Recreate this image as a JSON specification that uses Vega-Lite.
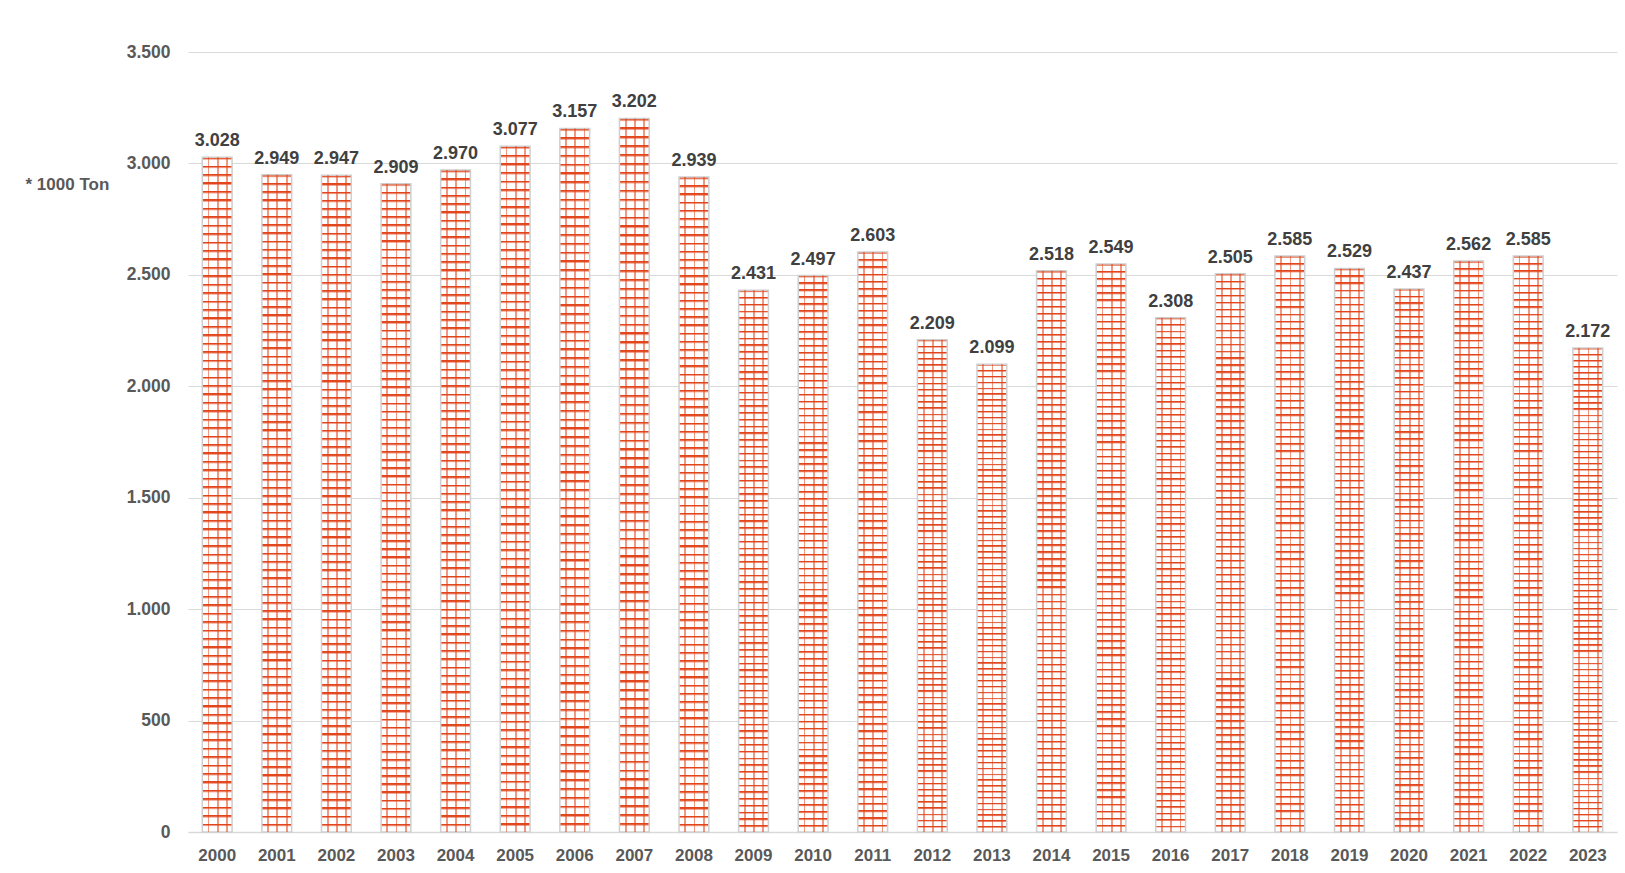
{
  "$schema": "https://vega.github.io/schema/vega-lite/v6.json",
  "width": 1429,
  "height": 780,
  "autosize": {"type": "none"},
  "padding": {"left": 188, "top": 52, "right": 8, "bottom": 41},
  "background": "white",
  "config": {
    "locale": {"number": {"decimal": ",", "thousands": ".", "grouping": [3], "currency": ["€", ""]}},
    "view": {"stroke": null},
    "font": "Liberation Sans"
  },
  "data": {
    "values": [
      {"year": "2000", "value": 3028}, {"year": "2001", "value": 2949}, {"year": "2002", "value": 2947},
      {"year": "2003", "value": 2909}, {"year": "2004", "value": 2970}, {"year": "2005", "value": 3077},
      {"year": "2006", "value": 3157}, {"year": "2007", "value": 3202}, {"year": "2008", "value": 2939},
      {"year": "2009", "value": 2431}, {"year": "2010", "value": 2497}, {"year": "2011", "value": 2603},
      {"year": "2012", "value": 2209}, {"year": "2013", "value": 2099}, {"year": "2014", "value": 2518},
      {"year": "2015", "value": 2549}, {"year": "2016", "value": 2308}, {"year": "2017", "value": 2505},
      {"year": "2018", "value": 2585}, {"year": "2019", "value": 2529}, {"year": "2020", "value": 2437},
      {"year": "2021", "value": 2562}, {"year": "2022", "value": 2585}, {"year": "2023", "value": 2172}
    ]
  },
  "encoding": {
    "x": {
      "field": "year", "type": "ordinal", "title": null,
      "scale": {"paddingInner": 0.5, "paddingOuter": 0.24},
      "axis": {"labelAngle": 0, "ticks": false, "grid": false, "domain": true, "domainColor": "#d9d9d9", "domainWidth": 1.5,
        "labelFontSize": 17, "labelFontWeight": "bold", "labelColor": "#595959", "labelPadding": 15}
    },
    "y": {
      "field": "value", "type": "quantitative",
      "scale": {"domain": [0, 3500], "nice": false},
      "axis": {"values": [0, 500, 1000, 1500, 2000, 2500, 3000, 3500], "format": ",d", "ticks": false, "domain": false,
        "grid": true, "gridColor": "#d9d9d9", "gridWidth": 1.2,
        "labelFontSize": 17.5, "labelFontWeight": "bold", "labelColor": "#595959", "labelPadding": 18,
        "title": "* 1000 Ton", "titleAngle": 0, "titleX": -163, "titleY": 132, "titleAlign": "left", "titleBaseline": "middle",
        "titleFontSize": 17, "titleFontWeight": "bold", "titleColor": "#595959"}
    }
  },
  "layer": [
    {
      "mark": {
        "type": "bar", "stroke": "#cfcfcf", "strokeWidth": 1.5,
        "fill": {"gradient": "linear", "x1": 0, "y1": 0, "x2": 0, "y2": 1, "stops": [
{"offset":0,"color":"#e2451b"},{"offset":0.0015,"color":"#e2451b"},{"offset":0.0045,"color":"#fff"},{"offset":0.0125,"color":"#fff"},
{"offset":0.0125,"color":"#e2451b"},{"offset":0.014,"color":"#e2451b"},{"offset":0.017,"color":"#fff"},{"offset":0.025,"color":"#fff"},
{"offset":0.025,"color":"#e2451b"},{"offset":0.0265,"color":"#e2451b"},{"offset":0.0295,"color":"#fff"},{"offset":0.0375,"color":"#fff"},
{"offset":0.0375,"color":"#e2451b"},{"offset":0.039,"color":"#e2451b"},{"offset":0.042,"color":"#fff"},{"offset":0.05,"color":"#fff"},
{"offset":0.05,"color":"#e2451b"},{"offset":0.0515,"color":"#e2451b"},{"offset":0.0545,"color":"#fff"},{"offset":0.0625,"color":"#fff"},
{"offset":0.0625,"color":"#e2451b"},{"offset":0.064,"color":"#e2451b"},{"offset":0.067,"color":"#fff"},{"offset":0.075,"color":"#fff"},
{"offset":0.075,"color":"#e2451b"},{"offset":0.0765,"color":"#e2451b"},{"offset":0.0795,"color":"#fff"},{"offset":0.0875,"color":"#fff"},
{"offset":0.0875,"color":"#e2451b"},{"offset":0.089,"color":"#e2451b"},{"offset":0.092,"color":"#fff"},{"offset":0.1,"color":"#fff"},
{"offset":0.1,"color":"#e2451b"},{"offset":0.1015,"color":"#e2451b"},{"offset":0.1045,"color":"#fff"},{"offset":0.1125,"color":"#fff"},
{"offset":0.1125,"color":"#e2451b"},{"offset":0.114,"color":"#e2451b"},{"offset":0.117,"color":"#fff"},{"offset":0.125,"color":"#fff"},
{"offset":0.125,"color":"#e2451b"},{"offset":0.1265,"color":"#e2451b"},{"offset":0.1295,"color":"#fff"},{"offset":0.1375,"color":"#fff"},
{"offset":0.1375,"color":"#e2451b"},{"offset":0.139,"color":"#e2451b"},{"offset":0.142,"color":"#fff"},{"offset":0.15,"color":"#fff"},
{"offset":0.15,"color":"#e2451b"},{"offset":0.1515,"color":"#e2451b"},{"offset":0.1545,"color":"#fff"},{"offset":0.1625,"color":"#fff"},
{"offset":0.1625,"color":"#e2451b"},{"offset":0.164,"color":"#e2451b"},{"offset":0.167,"color":"#fff"},{"offset":0.175,"color":"#fff"},
{"offset":0.175,"color":"#e2451b"},{"offset":0.1765,"color":"#e2451b"},{"offset":0.1795,"color":"#fff"},{"offset":0.1875,"color":"#fff"},
{"offset":0.1875,"color":"#e2451b"},{"offset":0.189,"color":"#e2451b"},{"offset":0.192,"color":"#fff"},{"offset":0.2,"color":"#fff"},
{"offset":0.2,"color":"#e2451b"},{"offset":0.2015,"color":"#e2451b"},{"offset":0.2045,"color":"#fff"},{"offset":0.2125,"color":"#fff"},
{"offset":0.2125,"color":"#e2451b"},{"offset":0.214,"color":"#e2451b"},{"offset":0.217,"color":"#fff"},{"offset":0.225,"color":"#fff"},
{"offset":0.225,"color":"#e2451b"},{"offset":0.2265,"color":"#e2451b"},{"offset":0.2295,"color":"#fff"},{"offset":0.2375,"color":"#fff"},
{"offset":0.2375,"color":"#e2451b"},{"offset":0.239,"color":"#e2451b"},{"offset":0.242,"color":"#fff"},{"offset":0.25,"color":"#fff"},
{"offset":0.25,"color":"#e2451b"},{"offset":0.2515,"color":"#e2451b"},{"offset":0.2545,"color":"#fff"},{"offset":0.2625,"color":"#fff"},
{"offset":0.2625,"color":"#e2451b"},{"offset":0.264,"color":"#e2451b"},{"offset":0.267,"color":"#fff"},{"offset":0.275,"color":"#fff"},
{"offset":0.275,"color":"#e2451b"},{"offset":0.2765,"color":"#e2451b"},{"offset":0.2795,"color":"#fff"},{"offset":0.2875,"color":"#fff"},
{"offset":0.2875,"color":"#e2451b"},{"offset":0.289,"color":"#e2451b"},{"offset":0.292,"color":"#fff"},{"offset":0.3,"color":"#fff"},
{"offset":0.3,"color":"#e2451b"},{"offset":0.3015,"color":"#e2451b"},{"offset":0.3045,"color":"#fff"},{"offset":0.3125,"color":"#fff"},
{"offset":0.3125,"color":"#e2451b"},{"offset":0.314,"color":"#e2451b"},{"offset":0.317,"color":"#fff"},{"offset":0.325,"color":"#fff"},
{"offset":0.325,"color":"#e2451b"},{"offset":0.3265,"color":"#e2451b"},{"offset":0.3295,"color":"#fff"},{"offset":0.3375,"color":"#fff"},
{"offset":0.3375,"color":"#e2451b"},{"offset":0.339,"color":"#e2451b"},{"offset":0.342,"color":"#fff"},{"offset":0.35,"color":"#fff"},
{"offset":0.35,"color":"#e2451b"},{"offset":0.3515,"color":"#e2451b"},{"offset":0.3545,"color":"#fff"},{"offset":0.3625,"color":"#fff"},
{"offset":0.3625,"color":"#e2451b"},{"offset":0.364,"color":"#e2451b"},{"offset":0.367,"color":"#fff"},{"offset":0.375,"color":"#fff"},
{"offset":0.375,"color":"#e2451b"},{"offset":0.3765,"color":"#e2451b"},{"offset":0.3795,"color":"#fff"},{"offset":0.3875,"color":"#fff"},
{"offset":0.3875,"color":"#e2451b"},{"offset":0.389,"color":"#e2451b"},{"offset":0.392,"color":"#fff"},{"offset":0.4,"color":"#fff"},
{"offset":0.4,"color":"#e2451b"},{"offset":0.4015,"color":"#e2451b"},{"offset":0.4045,"color":"#fff"},{"offset":0.4125,"color":"#fff"},
{"offset":0.4125,"color":"#e2451b"},{"offset":0.414,"color":"#e2451b"},{"offset":0.417,"color":"#fff"},{"offset":0.425,"color":"#fff"},
{"offset":0.425,"color":"#e2451b"},{"offset":0.4265,"color":"#e2451b"},{"offset":0.4295,"color":"#fff"},{"offset":0.4375,"color":"#fff"},
{"offset":0.4375,"color":"#e2451b"},{"offset":0.439,"color":"#e2451b"},{"offset":0.442,"color":"#fff"},{"offset":0.45,"color":"#fff"},
{"offset":0.45,"color":"#e2451b"},{"offset":0.4515,"color":"#e2451b"},{"offset":0.4545,"color":"#fff"},{"offset":0.4625,"color":"#fff"},
{"offset":0.4625,"color":"#e2451b"},{"offset":0.464,"color":"#e2451b"},{"offset":0.467,"color":"#fff"},{"offset":0.475,"color":"#fff"},
{"offset":0.475,"color":"#e2451b"},{"offset":0.4765,"color":"#e2451b"},{"offset":0.4795,"color":"#fff"},{"offset":0.4875,"color":"#fff"},
{"offset":0.4875,"color":"#e2451b"},{"offset":0.489,"color":"#e2451b"},{"offset":0.492,"color":"#fff"},{"offset":0.5,"color":"#fff"},
{"offset":0.5,"color":"#e2451b"},{"offset":0.5015,"color":"#e2451b"},{"offset":0.5045,"color":"#fff"},{"offset":0.5125,"color":"#fff"},
{"offset":0.5125,"color":"#e2451b"},{"offset":0.514,"color":"#e2451b"},{"offset":0.517,"color":"#fff"},{"offset":0.525,"color":"#fff"},
{"offset":0.525,"color":"#e2451b"},{"offset":0.5265,"color":"#e2451b"},{"offset":0.5295,"color":"#fff"},{"offset":0.5375,"color":"#fff"},
{"offset":0.5375,"color":"#e2451b"},{"offset":0.539,"color":"#e2451b"},{"offset":0.542,"color":"#fff"},{"offset":0.55,"color":"#fff"},
{"offset":0.55,"color":"#e2451b"},{"offset":0.5515,"color":"#e2451b"},{"offset":0.5545,"color":"#fff"},{"offset":0.5625,"color":"#fff"},
{"offset":0.5625,"color":"#e2451b"},{"offset":0.564,"color":"#e2451b"},{"offset":0.567,"color":"#fff"},{"offset":0.575,"color":"#fff"},
{"offset":0.575,"color":"#e2451b"},{"offset":0.5765,"color":"#e2451b"},{"offset":0.5795,"color":"#fff"},{"offset":0.5875,"color":"#fff"},
{"offset":0.5875,"color":"#e2451b"},{"offset":0.589,"color":"#e2451b"},{"offset":0.592,"color":"#fff"},{"offset":0.6,"color":"#fff"},
{"offset":0.6,"color":"#e2451b"},{"offset":0.6015,"color":"#e2451b"},{"offset":0.6045,"color":"#fff"},{"offset":0.6125,"color":"#fff"},
{"offset":0.6125,"color":"#e2451b"},{"offset":0.614,"color":"#e2451b"},{"offset":0.617,"color":"#fff"},{"offset":0.625,"color":"#fff"},
{"offset":0.625,"color":"#e2451b"},{"offset":0.6265,"color":"#e2451b"},{"offset":0.6295,"color":"#fff"},{"offset":0.6375,"color":"#fff"},
{"offset":0.6375,"color":"#e2451b"},{"offset":0.639,"color":"#e2451b"},{"offset":0.642,"color":"#fff"},{"offset":0.65,"color":"#fff"},
{"offset":0.65,"color":"#e2451b"},{"offset":0.6515,"color":"#e2451b"},{"offset":0.6545,"color":"#fff"},{"offset":0.6625,"color":"#fff"},
{"offset":0.6625,"color":"#e2451b"},{"offset":0.664,"color":"#e2451b"},{"offset":0.667,"color":"#fff"},{"offset":0.675,"color":"#fff"},
{"offset":0.675,"color":"#e2451b"},{"offset":0.6765,"color":"#e2451b"},{"offset":0.6795,"color":"#fff"},{"offset":0.6875,"color":"#fff"},
{"offset":0.6875,"color":"#e2451b"},{"offset":0.689,"color":"#e2451b"},{"offset":0.692,"color":"#fff"},{"offset":0.7,"color":"#fff"},
{"offset":0.7,"color":"#e2451b"},{"offset":0.7015,"color":"#e2451b"},{"offset":0.7045,"color":"#fff"},{"offset":0.7125,"color":"#fff"},
{"offset":0.7125,"color":"#e2451b"},{"offset":0.714,"color":"#e2451b"},{"offset":0.717,"color":"#fff"},{"offset":0.725,"color":"#fff"},
{"offset":0.725,"color":"#e2451b"},{"offset":0.7265,"color":"#e2451b"},{"offset":0.7295,"color":"#fff"},{"offset":0.7375,"color":"#fff"},
{"offset":0.7375,"color":"#e2451b"},{"offset":0.739,"color":"#e2451b"},{"offset":0.742,"color":"#fff"},{"offset":0.75,"color":"#fff"},
{"offset":0.75,"color":"#e2451b"},{"offset":0.7515,"color":"#e2451b"},{"offset":0.7545,"color":"#fff"},{"offset":0.7625,"color":"#fff"},
{"offset":0.7625,"color":"#e2451b"},{"offset":0.764,"color":"#e2451b"},{"offset":0.767,"color":"#fff"},{"offset":0.775,"color":"#fff"},
{"offset":0.775,"color":"#e2451b"},{"offset":0.7765,"color":"#e2451b"},{"offset":0.7795,"color":"#fff"},{"offset":0.7875,"color":"#fff"},
{"offset":0.7875,"color":"#e2451b"},{"offset":0.789,"color":"#e2451b"},{"offset":0.792,"color":"#fff"},{"offset":0.8,"color":"#fff"},
{"offset":0.8,"color":"#e2451b"},{"offset":0.8015,"color":"#e2451b"},{"offset":0.8045,"color":"#fff"},{"offset":0.8125,"color":"#fff"},
{"offset":0.8125,"color":"#e2451b"},{"offset":0.814,"color":"#e2451b"},{"offset":0.817,"color":"#fff"},{"offset":0.825,"color":"#fff"},
{"offset":0.825,"color":"#e2451b"},{"offset":0.8265,"color":"#e2451b"},{"offset":0.8295,"color":"#fff"},{"offset":0.8375,"color":"#fff"},
{"offset":0.8375,"color":"#e2451b"},{"offset":0.839,"color":"#e2451b"},{"offset":0.842,"color":"#fff"},{"offset":0.85,"color":"#fff"},
{"offset":0.85,"color":"#e2451b"},{"offset":0.8515,"color":"#e2451b"},{"offset":0.8545,"color":"#fff"},{"offset":0.8625,"color":"#fff"},
{"offset":0.8625,"color":"#e2451b"},{"offset":0.864,"color":"#e2451b"},{"offset":0.867,"color":"#fff"},{"offset":0.875,"color":"#fff"},
{"offset":0.875,"color":"#e2451b"},{"offset":0.8765,"color":"#e2451b"},{"offset":0.8795,"color":"#fff"},{"offset":0.8875,"color":"#fff"},
{"offset":0.8875,"color":"#e2451b"},{"offset":0.889,"color":"#e2451b"},{"offset":0.892,"color":"#fff"},{"offset":0.9,"color":"#fff"},
{"offset":0.9,"color":"#e2451b"},{"offset":0.9015,"color":"#e2451b"},{"offset":0.9045,"color":"#fff"},{"offset":0.9125,"color":"#fff"},
{"offset":0.9125,"color":"#e2451b"},{"offset":0.914,"color":"#e2451b"},{"offset":0.917,"color":"#fff"},{"offset":0.925,"color":"#fff"},
{"offset":0.925,"color":"#e2451b"},{"offset":0.9265,"color":"#e2451b"},{"offset":0.9295,"color":"#fff"},{"offset":0.9375,"color":"#fff"},
{"offset":0.9375,"color":"#e2451b"},{"offset":0.939,"color":"#e2451b"},{"offset":0.942,"color":"#fff"},{"offset":0.95,"color":"#fff"},
{"offset":0.95,"color":"#e2451b"},{"offset":0.9515,"color":"#e2451b"},{"offset":0.9545,"color":"#fff"},{"offset":0.9625,"color":"#fff"},
{"offset":0.9625,"color":"#e2451b"},{"offset":0.964,"color":"#e2451b"},{"offset":0.967,"color":"#fff"},{"offset":0.975,"color":"#fff"},
{"offset":0.975,"color":"#e2451b"},{"offset":0.9765,"color":"#e2451b"},{"offset":0.9795,"color":"#fff"},{"offset":0.9875,"color":"#fff"},
{"offset":0.9875,"color":"#e2451b"},{"offset":0.989,"color":"#e2451b"},{"offset":0.992,"color":"#fff"},{"offset":1,"color":"#fff"}
        ]}
      }
    },
    {
      "mark": {
        "type": "bar", "strokeWidth": 0,
        "fill": {"gradient": "linear", "x1": 0, "y1": 0, "x2": 1, "y2": 0, "stops": [
          {"offset": 0, "color": "rgba(226,69,27,0)"}, {"offset": 0.18, "color": "rgba(226,69,27,0)"},
          {"offset": 0.18, "color": "rgba(226,69,27,0.55)"}, {"offset": 0.24, "color": "rgba(226,69,27,0.55)"},
          {"offset": 0.24, "color": "rgba(226,69,27,0)"}, {"offset": 0.49, "color": "rgba(226,69,27,0)"},
          {"offset": 0.49, "color": "rgba(226,69,27,0.55)"}, {"offset": 0.55, "color": "rgba(226,69,27,0.55)"},
          {"offset": 0.55, "color": "rgba(226,69,27,0)"}, {"offset": 0.8, "color": "rgba(226,69,27,0)"},
          {"offset": 0.8, "color": "rgba(226,69,27,0.55)"}, {"offset": 0.86, "color": "rgba(226,69,27,0.55)"},
          {"offset": 0.86, "color": "rgba(226,69,27,0)"}, {"offset": 1, "color": "rgba(226,69,27,0)"}
        ]}
      }
    },
    {
      "mark": {"type": "text", "baseline": "alphabetic", "dy": -11, "fontSize": 18, "fontWeight": "bold", "color": "#404040"},
      "encoding": {"text": {"field": "value", "type": "quantitative", "format": ",.0f"}}
    }
  ]
}
